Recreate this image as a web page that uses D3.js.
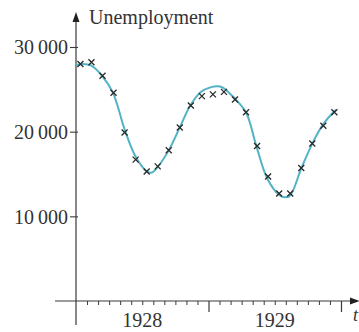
<!DOCTYPE html>
<html><head><meta charset="utf-8">
<script src="https://cdn.jsdelivr.net/npm/d3@7"></script>
<style>
html,body{margin:0;padding:0;background:#fff;}
svg{display:block;}
text{font-family:"Liberation Serif","DejaVu Serif",serif;fill:#333;}
</style></head>
<body><svg id="c" width="359" height="332"></svg>
<script>
// Monthly unemployment observations, Jan 1928 – Dec 1929
const months = ["Jan 1928","Feb 1928","Mar 1928","Apr 1928","May 1928","Jun 1928","Jul 1928","Aug 1928","Sep 1928","Oct 1928","Nov 1928","Dec 1928",
                "Jan 1929","Feb 1929","Mar 1929","Apr 1929","May 1929","Jun 1929","Jul 1929","Aug 1929","Sep 1929","Oct 1929","Nov 1929","Dec 1929"];
const unemployment = [28000,28200,26600,24600,19900,16700,15300,15900,17800,20500,23100,24200,
                      24400,24700,23800,22300,18300,14700,12700,12700,15700,18600,20700,22300];
// Fitted model curve (time in months from Jan 1928, value)
const curveT      = [0,0.63,1.36,2.36,3.35,4.44,5.44,6.44,6.89,7.43,8.43,9.43,10.34,11.33,12.33,12.87,13.33,14.32,15.41,16.32,17.32,18.4,18.95,19.4,20.4,21.4,22.3,23.3,23.57];
const curveValues = [27880,28000,27820,26590,24590,20120,16940,15290,15180,15880,17880,20590,23060,24710,25290,25350,25180,24000,22240,18350,14470,12530,12240,12470,15650,18590,20710,22290,22590];
const yTicks = [10000,20000,30000];
const yearLabels = ["1928","1929"];
const yLabel = "Unemployment";
const xLabel = "t";

const svg = d3.select("#c");
const x = d3.scaleLinear().domain([0,24]).range([76,341]);
const y = d3.scaleLinear().domain([0,30000]).range([301,47]);
const axisCol = "#3a3a3a";

// y axis line with arrow
svg.append("line").attr("x1",x(0)).attr("x2",x(0)).attr("y1",325).attr("y2",20)
  .attr("stroke",axisCol).attr("stroke-width",1.2);
svg.append("path").attr("d",`M${x(0)-3.5},${22} L${x(0)},${12} L${x(0)+3.5},${22} Z`).attr("fill","#222");
// x axis line with arrow
svg.append("line").attr("x1",55).attr("x2",352).attr("y1",y(0)).attr("y2",y(0))
  .attr("stroke",axisCol).attr("stroke-width",1.2);
svg.append("path").attr("d",`M350,${y(0)-3.5} L360,${y(0)} L350,${y(0)+3.5} Z`).attr("fill","#222");

// y ticks
const fmt = v => d3.format(",")(v).replace(",","\u2009");
const ya = svg.append("g").attr("transform",`translate(${x(0)+2},0)`)
  .call(d3.axisLeft(y).tickValues(yTicks).tickSize(8).tickPadding(2).tickFormat(fmt));
ya.select(".domain").remove();
ya.selectAll("line").attr("stroke",axisCol).attr("stroke-width",1.1);
ya.selectAll("text").attr("font-size",20).attr("fill","#333").attr("font-family","Liberation Serif").attr("dy","0.34em");

// x ticks: monthly minor, yearly major
const monthTicks = d3.range(0,25);
const xa = svg.append("g").attr("transform",`translate(0,${y(0)})`)
  .call(d3.axisBottom(x).tickValues(monthTicks.filter(m=>m%12!==0)).tickSize(4).tickFormat(""));
xa.select(".domain").remove();
xa.selectAll("line").attr("stroke",axisCol).attr("stroke-width",1);
const xb = svg.append("g").attr("transform",`translate(0,${y(0)})`)
  .call(d3.axisBottom(x).tickValues(monthTicks.filter(m=>m%12===0 && m>0)).tickSize(11).tickFormat(""));
xb.select(".domain").remove();
xb.selectAll("line").attr("stroke",axisCol).attr("stroke-width",1.2);

svg.selectAll("text.year").data(yearLabels).enter().append("text").attr("class","year")
  .attr("x",(d,i)=>x(6+12*i)).attr("y",327).attr("text-anchor","middle")
  .attr("font-size",20).text(d=>d);

svg.append("text").attr("x",89).attr("y",24).attr("font-size",20).text(yLabel);
svg.append("text").attr("x",353).attr("y",321).attr("font-size",18).attr("font-style","italic").text(xLabel);

// curve
const line = d3.line().x(d=>x(d[0])).y(d=>y(d[1])).curve(d3.curveCatmullRom.alpha(0.5));
svg.append("path").datum(curveT.map((t,i)=>[t,curveValues[i]]))
  .attr("d",line).attr("fill","none").attr("stroke","#52b3c6").attr("stroke-width",2);

// crosses
const s = 3;
svg.selectAll("path.pt").data(unemployment).enter().append("path").attr("class","pt")
  .attr("d",(d,i)=>{const cx=x(i+0.4), cy=y(d);
    return `M${cx-s},${cy-s}L${cx+s},${cy+s}M${cx-s},${cy+s}L${cx+s},${cy-s}`;})
  .attr("stroke","#2a2a2a").attr("stroke-width",1.3).attr("fill","none");
</script></body></html>
